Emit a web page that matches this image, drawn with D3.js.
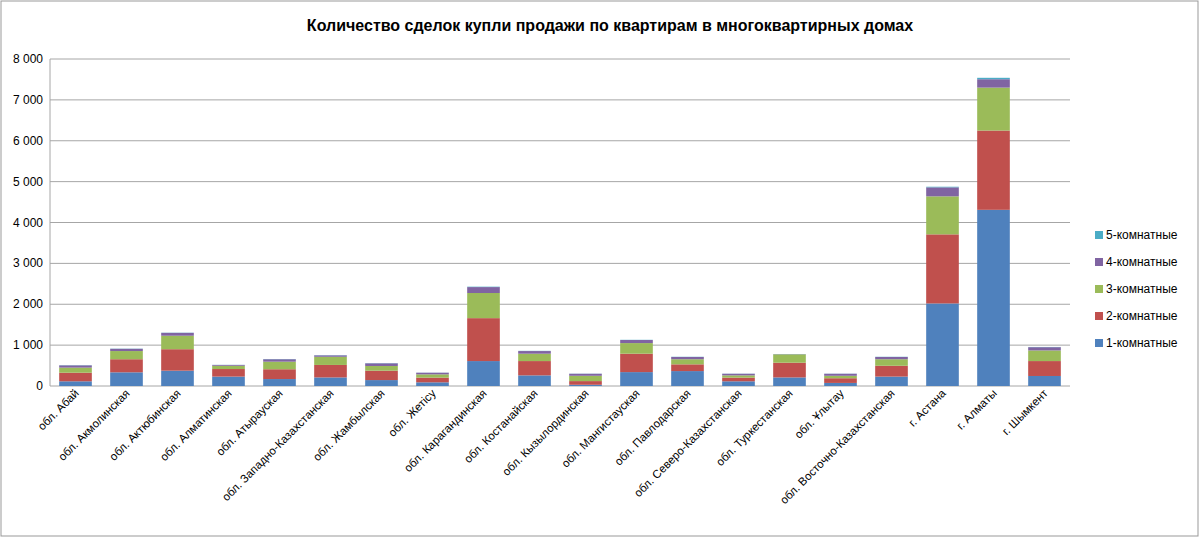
<!DOCTYPE html>
<html><head><meta charset="utf-8">
<script src="https://cdn.jsdelivr.net/npm/d3@7"></script>
<style>body{margin:0;background:#fff;font-family:"Liberation Sans",Arial,sans-serif}</style>
</head><body><svg id="c" width="1200" height="540"></svg>
<script>
var regions = ['обл. Абай','обл. Акмолинская','обл. Актюбинская','обл. Алматинская','обл. Атырауская',
  'обл. Западно-Казахстанская','обл. Жамбылская','обл. Жетісу','обл. Карагандинская','обл. Костанайская',
  'обл. Кызылординская','обл. Мангистауская','обл. Павлодарская','обл. Северо-Казахстанская','обл. Туркестанская',
  'обл. Ұлытау','обл. Восточно-Казахстанская','г. Астана','г. Алматы','г. Шымкент'];
var room1 = [115,335,375,230,170,210,145,90,610,260,30,340,365,115,210,75,230,2020,4310,245];
var room2 = [210,320,525,185,240,305,230,115,1050,350,90,450,165,90,360,115,265,1690,1940,365];
var room3 = [125,200,330,80,185,200,115,80,615,180,130,260,125,55,205,60,160,930,1050,260];
var room4 = [55,55,70,20,60,35,65,40,145,65,50,75,55,40,5,50,55,220,205,80];
var room5 = [5,5,5,3,5,5,5,3,10,5,3,5,5,3,3,3,5,15,35,5];
var seriesNames = ['1-комнатные','2-комнатные','3-комнатные','4-комнатные','5-комнатные'];
var colors = ['#4f81bd','#c0504d','#9bbb59','#8064a2','#4bacc6'];
var yTicks = [0,1000,2000,3000,4000,5000,6000,7000,8000];

var svg = d3.select('#c');
svg.append('rect').attr('x',1).attr('y',1).attr('width',1197).attr('height',535)
  .attr('fill','none').attr('stroke','#999');
svg.append('text').attr('x',610).attr('y',31).attr('text-anchor','middle')
  .attr('font-size',16).attr('font-weight','bold').text('Количество сделок купли продажи по квартирам в многоквартирных домах');

var plotL = 50, plotR = 1070, plotT = 59, plotB = 386;
var x = d3.scaleBand().domain(regions).range([plotL,plotR]).paddingInner(0.36).paddingOuter(0.18);
var y = d3.scaleLinear().domain([0,8000]).range([plotB,plotT]);

svg.append('g').selectAll('line').data(yTicks).enter().append('line')
  .attr('x1',plotL).attr('x2',plotR).attr('y1',function(d){return y(d);}).attr('y2',function(d){return y(d);})
  .attr('stroke','#a6a6a6');
svg.append('line').attr('x1',plotL).attr('x2',plotL).attr('y1',plotT).attr('y2',plotB).attr('stroke','#a6a6a6');
svg.append('g').selectAll('text').data(yTicks).enter().append('text')
  .attr('x',plotL-7).attr('y',function(d){return y(d)+4;}).attr('text-anchor','end').attr('font-size',12)
  .text(function(d){return d3.format(',')(d).replace(',','\u00a0');});

var table = regions.map(function(r,i){
  return {region:r, s0:room1[i], s1:room2[i], s2:room3[i], s3:room4[i], s4:room5[i]};
});
var stack = d3.stack().keys(['s0','s1','s2','s3','s4'])(table);
svg.append('g').selectAll('g').data(stack).enter().append('g')
  .attr('fill',function(d,i){return colors[i];})
  .selectAll('rect').data(function(d){return d;}).enter().append('rect')
  .attr('x',function(d){return x(d.data.region);}).attr('width',x.bandwidth())
  .attr('y',function(d){return y(d[1]);}).attr('height',function(d){return y(d[0])-y(d[1]);});

svg.append('g').selectAll('text').data(regions).enter().append('text')
  .attr('transform',function(d){return 'translate('+(x(d)+x.bandwidth()/2+4)+','+(plotB+8)+') rotate(-45)';})
  .attr('text-anchor','end').attr('font-size',11.5).text(function(d){return d;});

var lg = svg.append('g').selectAll('g').data(seriesNames.slice().reverse()).enter().append('g')
  .attr('transform',function(d,i){return 'translate(1095,'+(236+i*27)+')';});
lg.append('rect').attr('x',0).attr('y',-5).attr('width',8).attr('height',8)
  .attr('fill',function(d,i){return colors[4-i];});
lg.append('text').attr('x',11).attr('y',3).attr('font-size',12).text(function(d){return d;});
</script></body></html>
